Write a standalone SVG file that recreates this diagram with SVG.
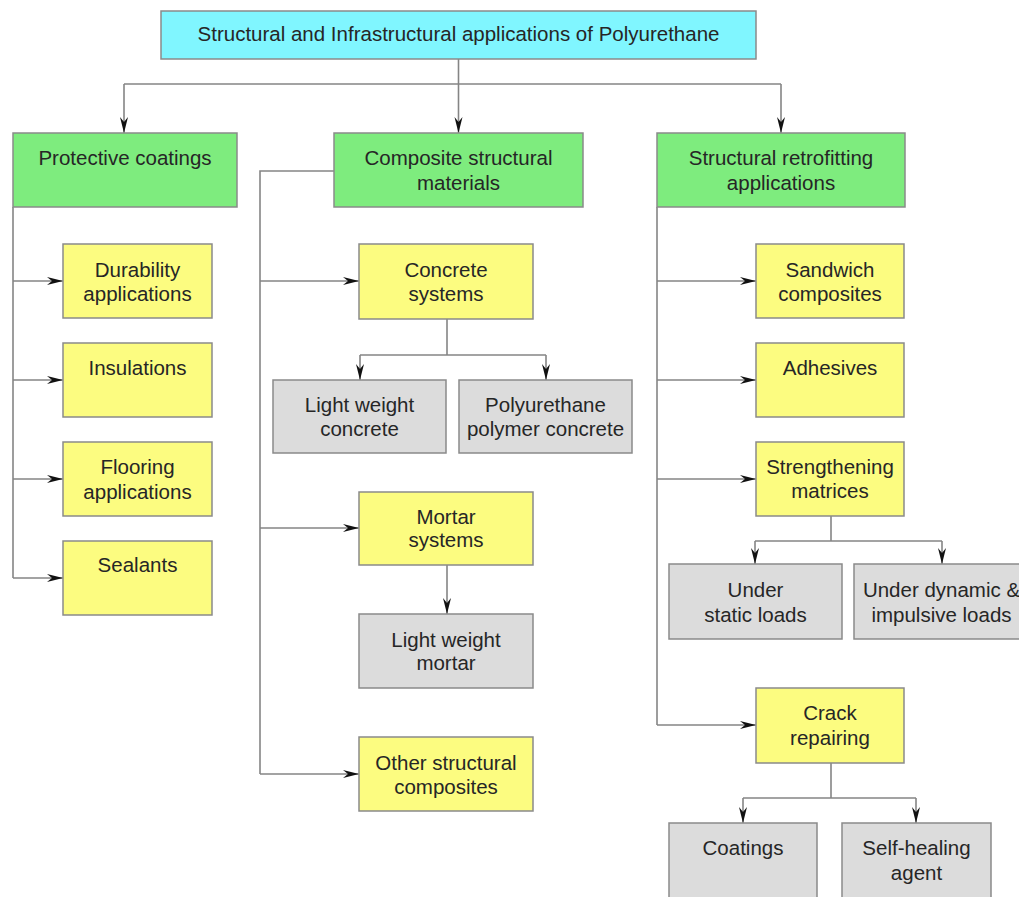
<svg xmlns="http://www.w3.org/2000/svg" width="1019" height="897" viewBox="0 0 1019 897">
<style>
  text { font-family: "Liberation Sans", Arial, sans-serif; font-size: 20.5px; fill: #262626; text-anchor: middle; }
  .box { stroke: #8a8a8a; stroke-width: 1.5; }
  .title { fill: #80f6ff; }
  .green { fill: #7eec7e; }
  .yellow { fill: #fcfc80; }
  .grey { fill: #dcdcdc; }
  .conn { fill: none; stroke: #858585; stroke-width: 1.6; }
  .arr { marker-end: url(#ah); }
</style>
<defs>
  <marker id="ah" markerUnits="userSpaceOnUse" markerWidth="16" markerHeight="8" refX="16" refY="4" orient="auto" overflow="visible">
    <path d="M0,0 L16,4 L0,8 L5,4 z" fill="#111"/>
  </marker>
</defs>
<rect width="1019" height="897" fill="#ffffff"/>

<g id="connectors">
  <path class="conn" d="M458.5,59 V84"/>
  <path class="conn" d="M124,84 H781"/>
  <path class="conn arr" d="M124,84 V133"/>
  <path class="conn arr" d="M458.5,84 V133"/>
  <path class="conn arr" d="M781,84 V133"/>
  <!-- left column -->
  <path class="conn" d="M13,207 V578"/>
  <path class="conn arr" d="M13,281 H63"/>
  <path class="conn arr" d="M13,380 H63"/>
  <path class="conn arr" d="M13,479 H63"/>
  <path class="conn arr" d="M13,578 H63"/>
  <!-- middle column -->
  <path class="conn" d="M334,171 H260 V774"/>
  <path class="conn arr" d="M260,281 H359"/>
  <path class="conn arr" d="M260,528 H359"/>
  <path class="conn arr" d="M260,774 H359"/>
  <path class="conn" d="M447,319 V355 M360,355 H546"/>
  <path class="conn arr" d="M360,355 V380"/>
  <path class="conn arr" d="M546,355 V380"/>
  <path class="conn arr" d="M447,565 V614"/>
  <!-- right column -->
  <path class="conn" d="M657,207 V725"/>
  <path class="conn arr" d="M657,281 H756"/>
  <path class="conn arr" d="M657,380 H756"/>
  <path class="conn arr" d="M657,479 H756"/>
  <path class="conn arr" d="M657,725 H756"/>
  <path class="conn" d="M831,516 V541 M755,541 H942"/>
  <path class="conn arr" d="M755,541 V564"/>
  <path class="conn arr" d="M942,541 V564"/>
  <path class="conn" d="M831,763 V798 M743,798 H916"/>
  <path class="conn arr" d="M743,798 V823"/>
  <path class="conn arr" d="M916,798 V823"/>
</g>

<g id="n-root"><rect class="box title" x="161" y="11" width="595" height="48"/><text x="458.5" y="41" font-size="21">Structural and Infrastructural applications of Polyurethane</text></g>

<g id="n-protective"><rect class="box green" x="13" y="133" width="224" height="74"/><text x="125" y="165">Protective coatings</text></g>
<g id="n-composite"><rect class="box green" x="334" y="133" width="249" height="74"/><text x="458.5" y="165">Composite structural</text><text x="458.5" y="190">materials</text></g>
<g id="n-retrofit"><rect class="box green" x="657" y="133" width="248" height="74"/><text x="781" y="165">Structural retrofitting</text><text x="781" y="190">applications</text></g>

<g id="n-durability"><rect class="box yellow" x="63" y="244" width="149" height="74"/><text x="137.5" y="277">Durability</text><text x="137.5" y="301">applications</text></g>
<g id="n-insulations"><rect class="box yellow" x="63" y="343" width="149" height="74"/><text x="137.5" y="375">Insulations</text></g>
<g id="n-flooring"><rect class="box yellow" x="63" y="442" width="149" height="74"/><text x="137.5" y="474">Flooring</text><text x="137.5" y="499">applications</text></g>
<g id="n-sealants"><rect class="box yellow" x="63" y="541" width="149" height="74"/><text x="137.5" y="572">Sealants</text></g>

<g id="n-concrete"><rect class="box yellow" x="359" y="244" width="174" height="75"/><text x="446" y="277">Concrete</text><text x="446" y="301">systems</text></g>
<g id="n-lwconcrete"><rect class="box grey" x="273" y="380" width="173" height="73"/><text x="359.5" y="412">Light weight</text><text x="359.5" y="436">concrete</text></g>
<g id="n-puconcrete"><rect class="box grey" x="459" y="380" width="173" height="73"/><text x="545.5" y="412">Polyurethane</text><text x="545.5" y="436">polymer concrete</text></g>
<g id="n-mortar"><rect class="box yellow" x="359" y="492" width="174" height="73"/><text x="446" y="524">Mortar</text><text x="446" y="547">systems</text></g>
<g id="n-lwmortar"><rect class="box grey" x="359" y="614" width="174" height="74"/><text x="446" y="647">Light weight</text><text x="446" y="670">mortar</text></g>
<g id="n-other"><rect class="box yellow" x="359" y="737" width="174" height="74"/><text x="446" y="770">Other structural</text><text x="446" y="794">composites</text></g>

<g id="n-sandwich"><rect class="box yellow" x="756" y="244" width="148" height="74"/><text x="830" y="277">Sandwich</text><text x="830" y="301">composites</text></g>
<g id="n-adhesives"><rect class="box yellow" x="756" y="343" width="148" height="74"/><text x="830" y="375">Adhesives</text></g>
<g id="n-strengthening"><rect class="box yellow" x="756" y="442" width="148" height="74"/><text x="830" y="474">Strengthening</text><text x="830" y="498">matrices</text></g>
<g id="n-static"><rect class="box grey" x="669" y="564" width="173" height="75"/><text x="755.5" y="597">Under</text><text x="755.5" y="622">static loads</text></g>
<g id="n-dynamic"><rect class="box grey" x="854" y="564" width="175" height="75"/><text x="941.5" y="597">Under dynamic &amp;</text><text x="941.5" y="622">impulsive loads</text></g>
<g id="n-crack"><rect class="box yellow" x="756" y="688" width="148" height="75"/><text x="830" y="720">Crack</text><text x="830" y="745">repairing</text></g>
<g id="n-coatings"><rect class="box grey" x="669" y="823" width="148" height="78"/><text x="743" y="855">Coatings</text></g>
<g id="n-selfhealing"><rect class="box grey" x="842" y="823" width="149" height="78"/><text x="916.5" y="855">Self-healing</text><text x="916.5" y="880">agent</text></g>
</svg>
